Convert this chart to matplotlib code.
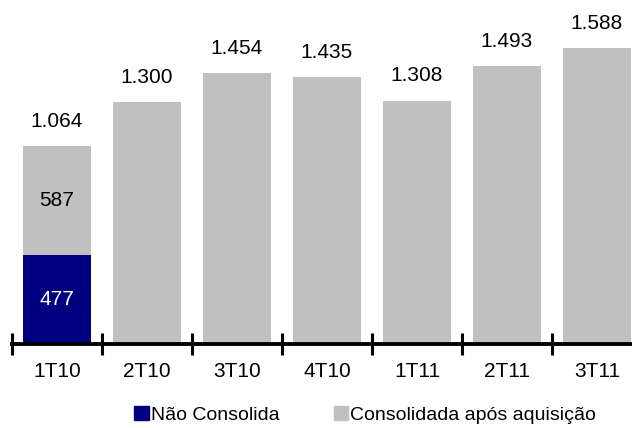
import numpy as np
import matplotlib
matplotlib.use('Agg')
import matplotlib.pyplot as plt
from matplotlib.patches import Patch

# ── Data ──
quarters = ['1T10', '2T10', '3T10', '4T10', '1T11', '2T11', '3T11']
nao_consolida = [477, 0, 0, 0, 0, 0, 0]
consolidada = [587, 1300, 1454, 1435, 1308, 1493, 1588]
totals = ['1.064', '1.300', '1.454', '1.435', '1.308', '1.493', '1.588']

NAVY = '#000080'
GRAY = '#C0C0C0'

plt.rcParams['font.family'] = ['Liberation Sans', 'DejaVu Sans']

fig = plt.figure(figsize=(6.32, 4.28), dpi=100)
# axes spans from first tick (x=12px) to right edge, base line at y=344px
ax = fig.add_axes([12 / 632, (428 - 344) / 428, 620 / 632, 344 / 428])

x = np.arange(len(quarters))
w = 0.76
ax.bar(x, nao_consolida, width=w, color=NAVY, zorder=2)
ax.bar(x, consolidada, width=w, bottom=nao_consolida, color=GRAY, zorder=2)

# value labels
for xi, n, c, t in zip(x, nao_consolida, consolidada, totals):
    top = n + c
    ax.annotate(t, (xi, top), xytext=(0, 11), textcoords='offset points',
                ha='center', va='bottom', fontsize=15)
    if n > 0:
        ax.text(xi, n / 2, f'{n}', ha='center', va='center',
                fontsize=15, color='white')
        ax.text(xi, n + c / 2, f'{c}', ha='center', va='center',
                fontsize=15, color='black')

ax.set_xlim(-0.5, 620 / 90 - 0.5)
ax.set_ylim(0, 344 / (198 / 1064))

for s in ['top', 'right', 'left']:
    ax.spines[s].set_visible(False)
ax.spines['bottom'].set_linewidth(2.8)
ax.spines['bottom'].set_zorder(3)
ax.set_yticks([])

# tick marks at category boundaries, labels at centres
ax.set_xticks(np.arange(len(quarters)) - 0.5)
ax.set_xticklabels([])
ax.tick_params(axis='x', which='major', direction='inout', length=16, width=2.2)
ax.set_xticks(x, minor=True)
ax.set_xticklabels(quarters, minor=True, fontsize=15)
ax.tick_params(axis='x', which='minor', length=0, pad=13)

handles = [Patch(color=NAVY, label='Não Consolida'),
           Patch(color=GRAY, label='Consolidada após aquisição')]
fig.legend(handles=handles, loc='center', bbox_to_anchor=(0.578, 0.03),
           ncol=2, frameon=False, fontsize=14, handlelength=0.75,
           handleheight=0.75, handletextpad=0.1, columnspacing=2.8,
           borderaxespad=0, borderpad=0.1)

fig.savefig('out.png', dpi=100, facecolor='white')
